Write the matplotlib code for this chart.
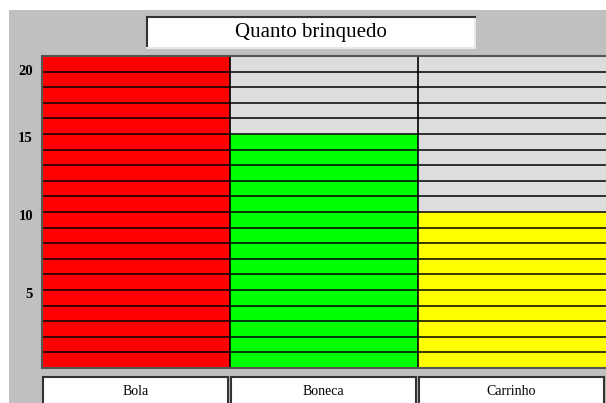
import matplotlib.pyplot as plt
from matplotlib.patches import Rectangle

# dados
categorias = ['Bola', 'Boneca', 'Carrinho']
quantidades = [20, 15, 10]
cores = ['#ff0000', '#00ff00', '#ffff00']
titulo = 'Quanto brinquedo'
yticks = [5, 10, 15, 20]
ymax = 20

W, H = 606, 403
fig = plt.figure(figsize=(W / 100, H / 100), dpi=100)
fig.patch.set_facecolor('#c0c0c0')


def px(x, y, w, h):
    # caixa em pixels (origem no topo) -> fração da figura
    return [x / W, 1 - (y + h) / H, w / W, h / H]


# faixas brancas no topo e à esquerda
fig.add_artist(Rectangle((0, 1 - 10 / H), 1, 10 / H, transform=fig.transFigure,
                         facecolor='white', edgecolor='none', zorder=-5))
fig.add_artist(Rectangle((0, 0), 9 / W, 1, transform=fig.transFigure,
                         facecolor='white', edgecolor='none', zorder=-5))

# área do gráfico
ax = fig.add_axes(px(42, 56, 564, 312))
n = len(categorias)
xs = range(n)
ax.bar(xs, [ymax] * n, width=1, align='edge', color='#dddddd', edgecolor='none')
ax.bar(xs, quantidades, width=1, align='edge', color=cores, edgecolor='none')
for v in range(1, ymax):
    ax.axhline(v, color='black', lw=1.1)
for i in range(1, n):
    ax.axvline(i, color='black', lw=1.2)
ax.set_xlim(0, n)
ax.set_ylim(0, ymax)
ax.set_xticks([])
ax.set_yticks([])
for s in ax.spines.values():
    s.set_color('#555555')
    s.set_linewidth(1.5)
ax.spines['right'].set_visible(False)

for v in yticks:
    ax.text(-9 / 564, min(v - 0.3, ymax - 1), str(v), transform=ax.get_yaxis_transform(),
            ha='right', va='center', family='Liberation Serif', fontweight='bold', fontsize=10.5)

# título
tax = fig.add_axes(px(147, 17, 328, 31))
tax.set_xticks([])
tax.set_yticks([])
tax.set_facecolor('white')
for k, s in tax.spines.items():
    s.set_linewidth(1.5)
    s.set_color('#333333' if k in ('top', 'left') else '#e8e8e8')
tax.text(0.5, 0.5, titulo, ha='center', va='center', family='Liberation Serif', fontsize=15)

# rótulos das categorias
for i, cat in enumerate(categorias):
    x0 = 42 + i * 188
    cax = fig.add_axes(px(x0 + 1, 377, 185, 30))
    cax.set_xticks([])
    cax.set_yticks([])
    cax.set_facecolor('white')
    for s in cax.spines.values():
        s.set_linewidth(1.5)
        s.set_color('#333333')
    cax.text(0.5, 0.53, cat, ha='center', va='center', family='Liberation Serif', fontsize=10)

fig.savefig('out.png', dpi=100)
